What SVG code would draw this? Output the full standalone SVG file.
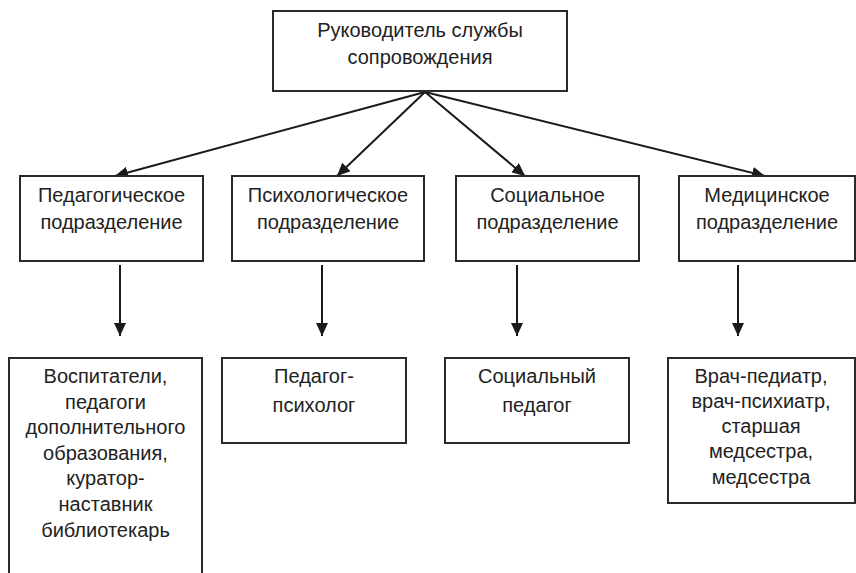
<svg xmlns="http://www.w3.org/2000/svg" width="856" height="573" viewBox="0 0 856 573">
<style>
.box{fill:#fff;stroke:#2a2a2a;stroke-width:2}
.t{font-family:"Liberation Sans","DejaVu Sans",Arial,sans-serif;font-size:20px;fill:#222;text-anchor:middle}
.c{stroke:#1a1a1a;stroke-width:2;fill:none;marker-end:url(#ah)}
</style>
<defs>
<marker id="ah" markerUnits="userSpaceOnUse" markerWidth="14" markerHeight="12" refX="13" refY="6" orient="auto">
<path d="M0,0 L13,6 L0,12 Z" fill="#1a1a1a"/>
</marker>
</defs>
<rect width="856" height="573" fill="#fff"/>
<g id="connectors">
<line class="c" x1="425" y1="92" x2="115" y2="176"/>
<line class="c" x1="425" y1="92" x2="337" y2="176"/>
<line class="c" x1="425" y1="92" x2="525" y2="176"/>
<line class="c" x1="425" y1="92" x2="765" y2="176"/>
<line class="c" x1="120" y1="265" x2="120" y2="336"/>
<line class="c" x1="322" y1="265" x2="322" y2="336"/>
<line class="c" x1="517" y1="265" x2="517" y2="336"/>
<line class="c" x1="738" y1="265" x2="738" y2="336"/>
</g>
<g id="head">
<rect class="box" x="273" y="11" width="294" height="80"/>
<text class="t" x="420" y="37">Руководитель службы</text>
<text class="t" x="420" y="64">сопровождения</text>
</g>
<g id="ped">
<rect class="box" x="20" y="176" width="183" height="85"/>
<text class="t" x="111.5" y="202">Педагогическое</text>
<text class="t" x="111.5" y="229">подразделение</text>
</g>
<g id="psy">
<rect class="box" x="232" y="176" width="192" height="85"/>
<text class="t" x="328" y="202">Психологическое</text>
<text class="t" x="328" y="229">подразделение</text>
</g>
<g id="soc">
<rect class="box" x="456" y="176" width="183" height="85"/>
<text class="t" x="547.5" y="202">Социальное</text>
<text class="t" x="547.5" y="229">подразделение</text>
</g>
<g id="med">
<rect class="box" x="679" y="176" width="176" height="85"/>
<text class="t" x="767" y="202">Медицинское</text>
<text class="t" x="767" y="229">подразделение</text>
</g>
<g id="ped-staff">
<rect class="box" x="9" y="358" width="193" height="230"/>
<text class="t" x="105.5" y="383">Воспитатели,</text>
<text class="t" x="105.5" y="408.5">педагоги</text>
<text class="t" x="105.5" y="434">дополнительного</text>
<text class="t" x="105.5" y="459.5">образования,</text>
<text class="t" x="105.5" y="485">куратор-</text>
<text class="t" x="105.5" y="510.5">наставник</text>
<text class="t" x="105.5" y="537">библиотекарь</text>
</g>
<g id="psy-staff">
<rect class="box" x="222" y="358" width="184" height="85"/>
<text class="t" x="314" y="383">Педагог-</text>
<text class="t" x="314" y="412">психолог</text>
</g>
<g id="soc-staff">
<rect class="box" x="445" y="358" width="184" height="85"/>
<text class="t" x="537" y="383">Социальный</text>
<text class="t" x="537" y="412">педагог</text>
</g>
<g id="med-staff">
<rect class="box" x="668" y="358" width="187" height="145"/>
<text class="t" x="761" y="383">Врач-педиатр,</text>
<text class="t" x="761" y="408">врач-психиатр,</text>
<text class="t" x="761" y="433">старшая</text>
<text class="t" x="761" y="458">медсестра,</text>
<text class="t" x="761" y="484">медсестра</text>
</g>
</svg>
